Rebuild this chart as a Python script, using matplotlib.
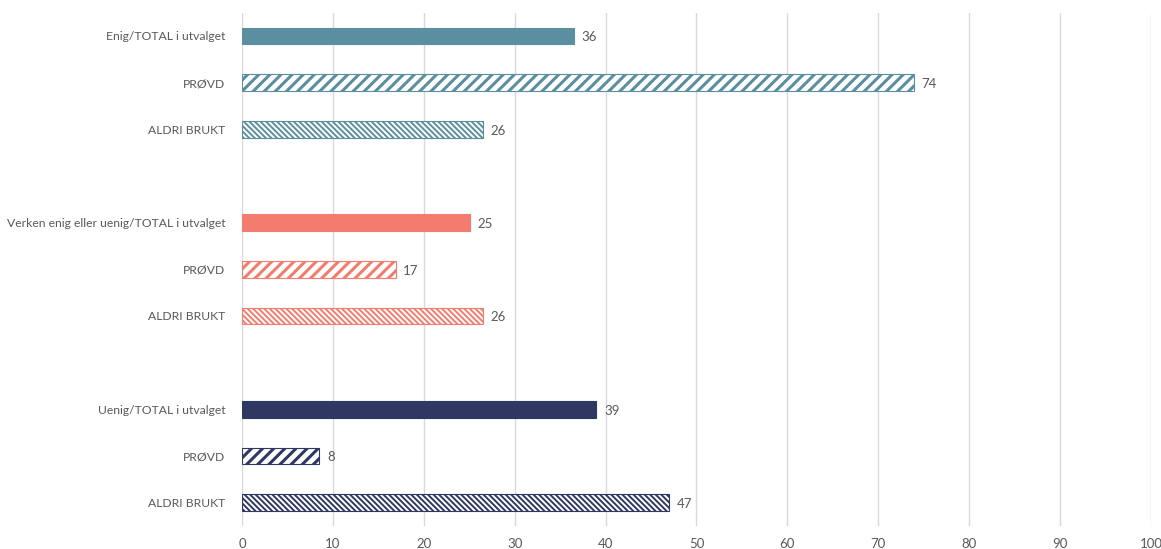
import matplotlib.pyplot as plt
import numpy as np

# data
labels = ["Enig/TOTAL i utvalget", "PRØVD", "ALDRI BRUKT",
          "Verken enig eller uenig/TOTAL i utvalget", "PRØVD", "ALDRI BRUKT",
          "Uenig/TOTAL i utvalget", "PRØVD", "ALDRI BRUKT"]
values = [36.5, 73.9, 26.5, 25.1, 16.9, 26.5, 39.0, 8.5, 47.0]
group_colors = ["#5b8fa0", "#f47c6e", "#2e3862"]
hatches = [None, "///", "\\\\\\\\\\\\"]
hatch_widths = [1.0, 2.2, 1.4]

plt.rcParams['font.family'] = ['Lato', 'DejaVu Sans']

fig = plt.figure(figsize=(11.61, 5.49), dpi=100)
ax = fig.add_axes([0.2084, 0.042, 0.7830, 0.935])

positions = []
for g in range(3):
    for k in range(3):
        positions.append(g * 4 + k)

for i, (pos, val) in enumerate(zip(positions, values)):
    g, k = divmod(i, 3)
    col = group_colors[g]
    plt.rcParams['hatch.linewidth'] = hatch_widths[k]
    if hatches[k] is None:
        ax.barh(pos, val, height=0.36, color=col, edgecolor=col, linewidth=0.8, zorder=3)
    else:
        ax.barh(pos, val, height=0.36, color="white", edgecolor=col,
                hatch=hatches[k], linewidth=0.8, zorder=3)
    ax.text(val + 0.85, pos + 0.03, f"{val:.0f}", va="center", ha="left",
            fontsize=9.5, color="#595959")

ax.set_xlim(0, 100)
ax.set_ylim(10.5, -0.5)
ax.set_xticks(np.arange(0, 101, 10))
ax.set_yticks(positions)
ax.set_yticklabels(labels)
ax.tick_params(axis="y", length=0, pad=12, labelsize=8.7, labelcolor="#595959")
ax.tick_params(axis="x", length=0, pad=9, labelsize=9.5, labelcolor="#595959")
ax.grid(axis="x", color="#d9d9d9", linewidth=1, zorder=0)
ax.set_axisbelow(True)
for s in ax.spines.values():
    s.set_visible(False)

fig.savefig("out.png", dpi=100)
